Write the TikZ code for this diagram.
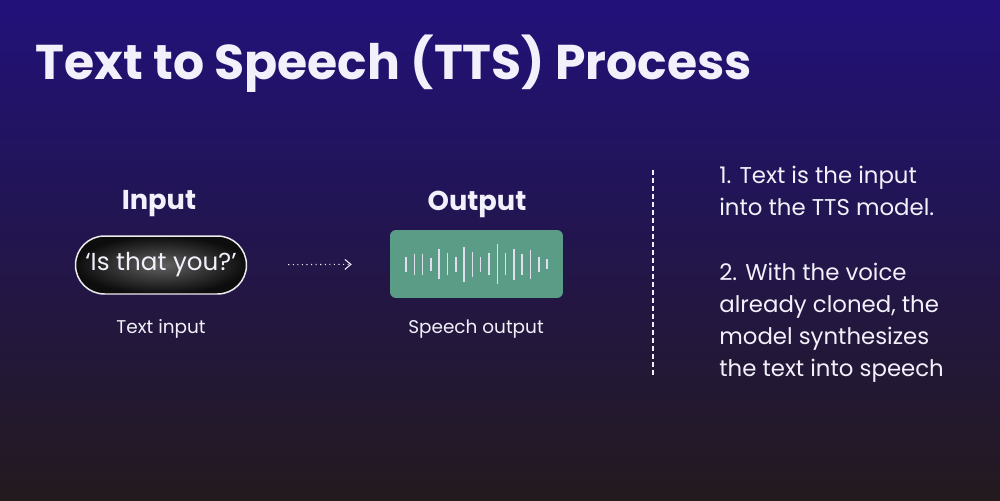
\documentclass[tikz,border=0pt]{standalone}
\usepackage{fontspec}
\setmainfont{Poppins}
\usepackage{tikz}
\usetikzlibrary{positioning,calc,arrows.meta}

\definecolor{bgtop}{HTML}{22117A}
\definecolor{bgbottom}{HTML}{231A1E}
\definecolor{wavegreen}{HTML}{5B9C86}
\definecolor{barwhite}{HTML}{E2DEF0}
\definecolor{textwhite}{HTML}{F2F0FA}

\begin{document}
\begin{tikzpicture}[x=0.02cm,y=-0.02cm,
            every node/.style={text=textwhite,inner sep=0pt},
            titletext/.style={font=\bfseries\fontsize{27.8}{33}\selectfont},
            headlabel/.style={font=\bfseries\fontsize{15.5}{19}\selectfont},
            caption/.style={font=\fontsize{10.5}{13}\selectfont},
            pillbox/.style={minimum width=3.42cm,minimum height=1.16cm,rounded corners=0.58cm,
                draw=white!85!gray,line width=0.85pt,inner color=black!62!white,outer color=black!95!white,
                font=\fontsize{14}{17}\selectfont},
            wavebox/.style={minimum width=3.46cm,minimum height=1.36cm,rounded corners=0.12cm,fill=wavegreen},
            waveedge/.style={barwhite,line width=0.9pt},
            flowedge/.style={textwhite,dotted,line width=0.6pt,-{Straight Barb[length=1.2mm,width=2mm]},
                shorten <=0.82cm,shorten >=0.76cm},
            splitedge/.style={textwhite,line width=0.6pt,dash pattern=on 0.1cm off 0.06cm},
            bodytext/.style={align=left,anchor=north west,font=\fontsize{13}{18.3}\selectfont}
        ]
            \shade[top color=bgtop,bottom color=bgbottom] (0,0) rectangle (1000,500);
            \useasboundingbox (0,0) rectangle (1000,500);
            \node[titletext,anchor=base west] (title) at (35,80) {Text to Speech (TTS) Process};
            \node[headlabel] (inlabel) at (159,204) {Input};
            \node[pillbox] (pill) at (161,265) {‘Is that you?’};
            \node[caption] (incap) at (161,329) {Text input};
            \node[headlabel] (outlabel) at (477,204) {Output};
            \node[wavebox] (wave) at (476.5,264) {};
            \node[caption] (outcap) at (476,329) {Speech output};
            \foreach \h [count=\i from 0] in {15,21,21,13,30,22,15,35,25,15,22,40,22,31,21,29,15,10}
                \draw[waveedge] ($(wave.center)+(-70.5+\i*8.3,-\h/2)$) -- ++(0,\h);
            \path[flowedge] (pill) edge (wave);
            \coordinate (splittop) at (653,170);
            \coordinate (splitbot) at (653,375);
            \path[splitedge] (splittop) edge (splitbot);
            \node[bodytext] (notes) at (719,166) {1. Text is the input\\
                into the TTS model.\\[18.3pt]
                2. With the voice\\
                already cloned, the\\
                model synthesizes\\
                the text into speech};
        \end{tikzpicture}
\end{document}
